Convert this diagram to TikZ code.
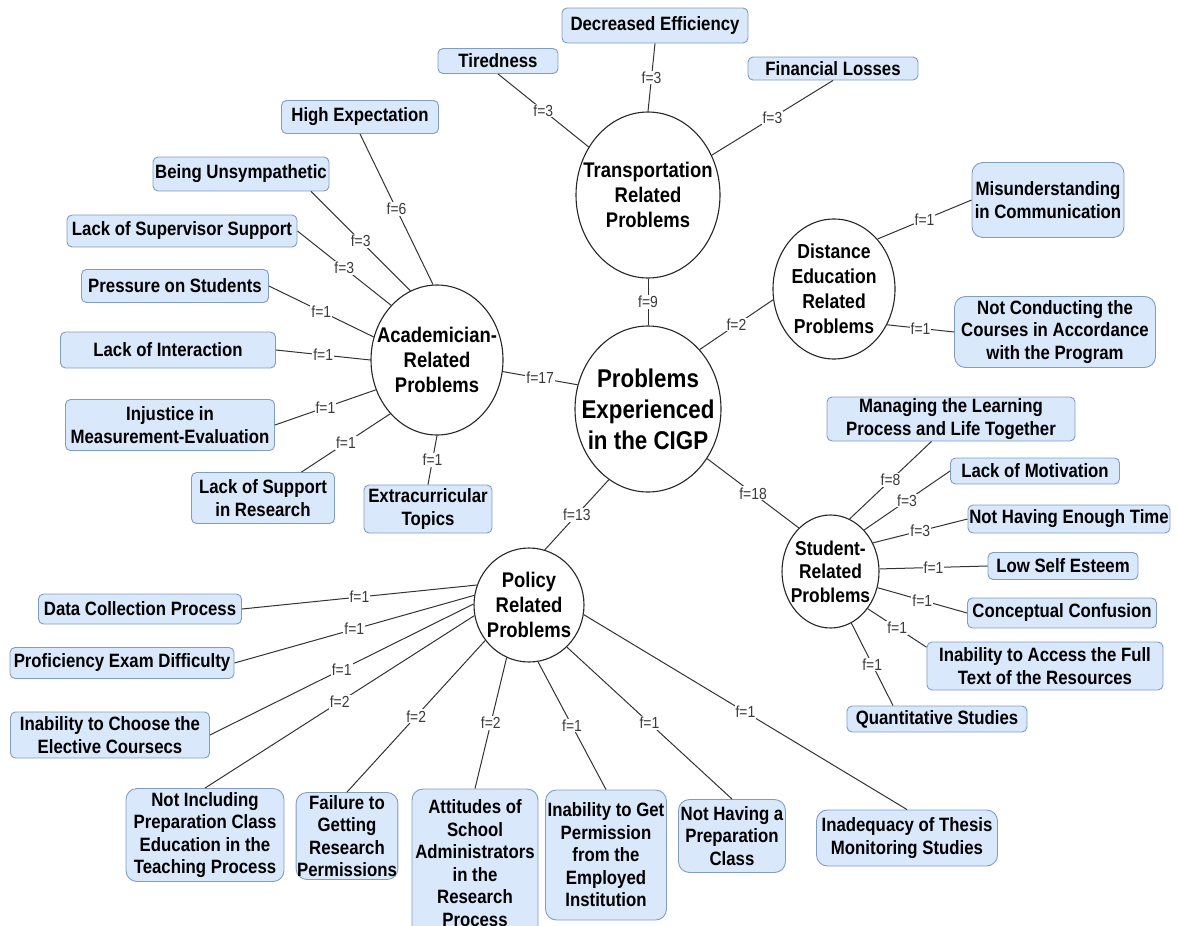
\documentclass[tikz,border=0pt]{standalone}
\usepackage{fontspec}
\setmainfont{Liberation Sans}[FakeStretch=0.87]
\usetikzlibrary{shapes.geometric}
\definecolor{boxfill}{HTML}{DAE8FC}
\definecolor{boxline}{HTML}{7F9CC6}
\definecolor{edgecol}{HTML}{333333}
\definecolor{lblcol}{HTML}{3A3A3A}
\tikzset{
  bx/.style={draw=boxline, fill=boxfill, rounded corners=5pt, line width=0.9pt, align=center, inner sep=1pt, font=\bfseries\fontsize{19.3}{22.5}\selectfont},
  tallbx/.style={bx, rounded corners=11pt},
  hub/.style={ellipse, draw=black!85, fill=white, line width=1.1pt, inner sep=0pt},
  hubtxt/.style={align=center, font=\bfseries\fontsize{21.2}{25}\selectfont},
  lbl/.style={fill=white, text=lblcol, inner sep=1pt, font=\fontsize{16}{17}\selectfont},
  ln/.style={draw=edgecol, line width=1pt},
}
\begin{document}
\begin{tikzpicture}[x=1pt, y=-1pt]
\useasboundingbox (0,0) rectangle (1178,926);

% ---------- hubs ----------
\node[hub, minimum width=146pt, minimum height=166pt,
  label={[hubtxt, font=\bfseries\fontsize{25.7}{31}\selectfont]center:Problems\\Experienced\\in the CIGP}] (C) at (648,409) {};
\node[hub, minimum width=144pt, minimum height=166pt,
  label={[hubtxt]center:Transportation\\Related\\Problems}] (T) at (648,195) {};
\node[hub, minimum width=132pt, minimum height=150pt,
  label={[hubtxt]center:Academician-\\Related\\Problems}] (A) at (437,360) {};
\node[hub, minimum width=122pt, minimum height=140pt,
  label={[hubtxt, font=\bfseries\fontsize{20.2}{25}\selectfont]center:Distance\\Education\\Related\\Problems}] (D) at (834,289) {};
\node[hub, minimum width=97pt, minimum height=113pt,
  label={[hubtxt, font=\bfseries\fontsize{20}{23.5}\selectfont]center:Student-\\Related\\Problems}] (S) at (830.5,571.5) {};
\node[hub, minimum width=110pt, minimum height=114pt,
  label={[hubtxt]center:Policy\\Related\\Problems}] (P) at (529,605) {};

% ---------- transportation boxes ----------
\node[bx, minimum width=120pt, minimum height=25pt] (Tir) at (498,61) {Tiredness};
\node[bx, minimum width=186pt, minimum height=35pt] (Dec) at (655,25.5) {Decreased Efficiency};
\node[bx, minimum width=170pt, minimum height=23pt] (Fin) at (833,68.5) {Financial Losses};

% ---------- academician boxes ----------
\node[bx, minimum width=157pt, minimum height=33pt] (HE) at (360,117) {High Expectation};
\node[bx, minimum width=176pt, minimum height=34pt] (BU) at (241,174) {Being Unsympathetic};
\node[bx, minimum width=230pt, minimum height=32pt] (LS) at (182,231) {Lack of Supervisor Support};
\node[bx, minimum width=187pt, minimum height=33pt] (PS) at (175,286) {Pressure on Students};
\node[bx, minimum width=215pt, minimum height=36pt] (LI) at (168,350) {Lack of Interaction};
\node[bx, minimum width=209pt, minimum height=51pt] (IM) at (170,425) {Injustice in\\Measurement-Evaluation};
\node[bx, minimum width=143pt, minimum height=51pt] (SR) at (263,498) {Lack of Support\\in Research};
\node[bx, minimum width=128pt, minimum height=48pt] (ET) at (428,509) {Extracurricular\\Topics};

% ---------- distance boxes ----------
\node[tallbx, minimum width=152pt, minimum height=75pt] (MC) at (1048,200) {Misunderstanding\\in Communication};
\node[tallbx, minimum width=201pt, minimum height=71pt] (NC) at (1055,332) {Not Conducting the\\Courses in Accordance\\with the Program};

% ---------- student boxes ----------
\node[bx, minimum width=248pt, minimum height=44pt] (ML) at (951,419) {Managing the Learning\\Process and Life Together};
\node[bx, minimum width=169pt, minimum height=26pt] (LM) at (1035,471) {Lack of Motivation};
\node[bx, minimum width=202pt, minimum height=28pt] (NT) at (1069,519) {Not Having Enough Time};
\node[bx, minimum width=150pt, minimum height=27pt] (LE) at (1063,566) {Low Self Esteem};
\node[bx, minimum width=189pt, minimum height=30pt] (CC) at (1062,613) {Conceptual Confusion};
\node[bx, minimum width=236pt, minimum height=48pt] (IA) at (1045,666) {Inability to Access the Full\\Text of the Resources};
\node[bx, minimum width=180pt, minimum height=26pt] (QS) at (937,719) {Quantitative Studies};

% ---------- policy boxes ----------
\node[bx, minimum width=203pt, minimum height=30pt] (DC) at (140,609) {Data Collection Process};
\node[bx, minimum width=224pt, minimum height=31pt] (PE) at (122,663) {Proficiency Exam Difficulty};
\node[bx, minimum width=199pt, minimum height=46pt] (IC) at (110,735) {Inability to Choose the\\Elective Coursecs};
\node[tallbx, minimum width=158pt, minimum height=93pt] (NI) at (205,835) {Not Including\\Preparation Class\\Education in the\\Teaching Process};
\node[tallbx, minimum width=101pt, minimum height=87pt] (FG) at (347,836) {Failure to\\Getting\\Research\\Permissions};
\node[tallbx, minimum width=126pt, minimum height=148pt] (AS) at (475,863) {Attitudes of\\School\\Administrators\\in the\\Research\\Process};
\node[tallbx, minimum width=121pt, minimum height=130pt] (IG) at (606,855) {Inability to Get\\Permission\\from the\\Employed\\Institution};
\node[tallbx, minimum width=107pt, minimum height=73pt] (NH) at (732,836) {Not Having a\\Preparation\\Class};
\node[tallbx, minimum width=181pt, minimum height=56pt] (TM) at (907,838) {Inadequacy of Thesis\\Monitoring Studies};

% ---------- connectors: centre ----------
\draw[ln] (T.south) -- node[lbl]{f=9} (C.north);
\draw[ln] (A.350) -- node[lbl]{f=17} (C.161);
\draw[ln] (C.49) -- node[lbl]{f=2} (D.190);
\draw[ln] (C.320) -- node[lbl]{f=18} (S.126);
\draw[ln] (C.241) -- node[lbl]{f=13} (P.74);

% ---------- transportation ----------
\draw[ln] (Tir.south) -- node[lbl]{f=3} (T.141);
\draw[ln] (Dec.south) -- node[lbl]{f=3} (T.north);
\draw[ln] (Fin.south) -- node[lbl]{f=3} (T.32);

% ---------- academician ----------
\draw[ln] (HE.south) -- node[lbl]{f=6} (A.93);
\draw[ln] (BU.346) -- node[lbl]{f=3} (A.111);
\draw[ln] (LS.east) -- node[lbl]{f=3} (A.130);
\draw[ln] (PS.east) -- node[lbl]{f=1} (A.160);
\draw[ln] (LI.east) -- node[lbl]{f=1} (A.180);
\draw[ln] (IM.east) -- node[lbl]{f=1} (A.206);
\draw[ln] (SR.34) -- node[lbl]{f=1} (A.229);
\draw[ln] (ET.north) -- node[lbl]{f=1} (A.270);

% ---------- distance ----------
\draw[ln] (D.49) -- node[lbl]{f=1} (MC.west);
\draw[ln] (D.326) -- node[lbl]{f=1} (NC.west);

% ---------- student ----------
\draw[ln] (S.70) -- node[lbl]{f=8} (ML.229);
\draw[ln] (S.51) -- node[lbl]{f=3} (LM.west);
\draw[ln] (S.34) -- node[lbl]{f=3} (NT.west);
\draw[ln] (S.3) -- node[lbl]{f=1} (LE.west);
\draw[ln] (S.341) -- node[lbl]{f=1} (CC.west);
\draw[ln] (S.315) -- node[lbl]{f=1} (IA.171);
\draw[ln] (S.292) -- node[lbl]{f=1} (QS.163);

% ---------- policy ----------
\draw[ln] (P.159) -- node[lbl]{f=1} (DC.east);
\draw[ln] (P.170) -- node[lbl]{f=1} (PE.east);
\draw[ln] (P.179) -- node[lbl]{f=1} (IC.east);
\draw[ln] (P.191) -- node[lbl]{f=2} (NI.north);
\draw[ln] (P.219) -- node[lbl]{f=2} (FG.north);
\draw[ln] (P.247) -- node[lbl]{f=2} (AS.north);
\draw[ln] (P.279) -- node[lbl]{f=1} (IG.north);
\draw[ln] (P.312) -- node[lbl]{f=1} (NH.north);
\draw[ln] (P.350) -- node[lbl]{f=1} (TM.north);
\end{tikzpicture}
\end{document}
